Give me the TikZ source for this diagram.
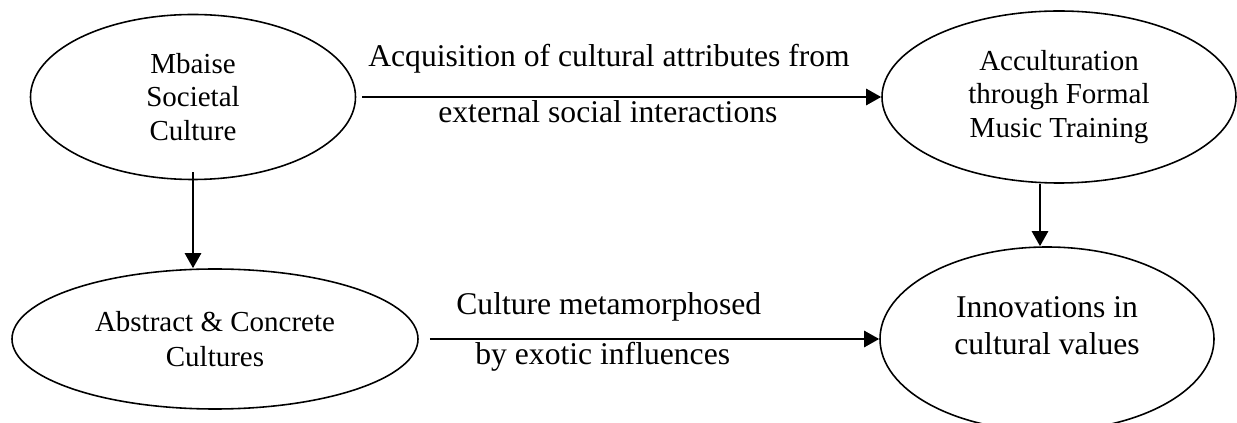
\documentclass[tikz,border=0pt]{standalone}
\usepackage{fontspec}
\setmainfont{Liberation Serif}
\usepackage{tikz}
\usetikzlibrary{calc,positioning,arrows.meta,shapes.geometric}

\tikzset{
  bubble/.style={draw, ellipse, line width=0.9pt, inner sep=0pt, align=center, font=\fontsize{16.5}{19}\selectfont},
  flow/.style={-{Triangle[length=0.3cm,width=0.32cm]}, line width=1.5pt},
  caption/.style={inner sep=0pt, anchor=base west, font=\fontsize{18}{21.6}\selectfont}
}

\begin{document}
\begin{tikzpicture}
  \useasboundingbox (0,0) rectangle (24.74,8.46);
  \node[bubble, minimum width=6.5cm, minimum height=3.3cm] (mbaise) at (3.86,6.52) {Mbaise\\Societal\\Culture};
  \node[bubble, minimum width=7.08cm, minimum height=3.44cm] (accult) at (21.18,6.52) {Acculturation\\through Formal\\Music Training};
  \node[bubble, minimum width=8.12cm, minimum height=2.8cm, font=\fontsize{16.5}{20}\selectfont] (abstract) at (4.30,1.68) {Abstract \& Concrete\\Cultures};
  \node[bubble, minimum width=6.68cm, minimum height=3.68cm,
    label={[font=\fontsize{18}{21}\selectfont, align=center, yshift=0.26cm]center:{Innovations in\\cultural values}}] (innov) at (20.94,1.68) {};

  \draw[flow] ([xshift=0.12cm]mbaise.east) -- (mbaise.east -| accult.west);
  \draw[flow] ([xshift=0.22cm]abstract.east) -- (abstract.east -| innov.west);
  \draw[flow] ([yshift=0.16cm]mbaise.south) -- (mbaise.south |- abstract.north);
  \draw[flow] ([xshift=-0.38cm]accult.south) -- ([xshift=-0.38cm]accult.south |- innov.north);

  \node[caption] (acqtop) at (7.36,7.12) {Acquisition of cultural attributes from};
  \node[caption] (acqbot) at (8.76,6.00) {external social interactions};
  \node[caption] (metatop) at (9.12,2.16) {Culture metamorphosed};
  \node[caption] (metabot) at (9.50,1.16) {by exotic influences};
\end{tikzpicture}
\end{document}
